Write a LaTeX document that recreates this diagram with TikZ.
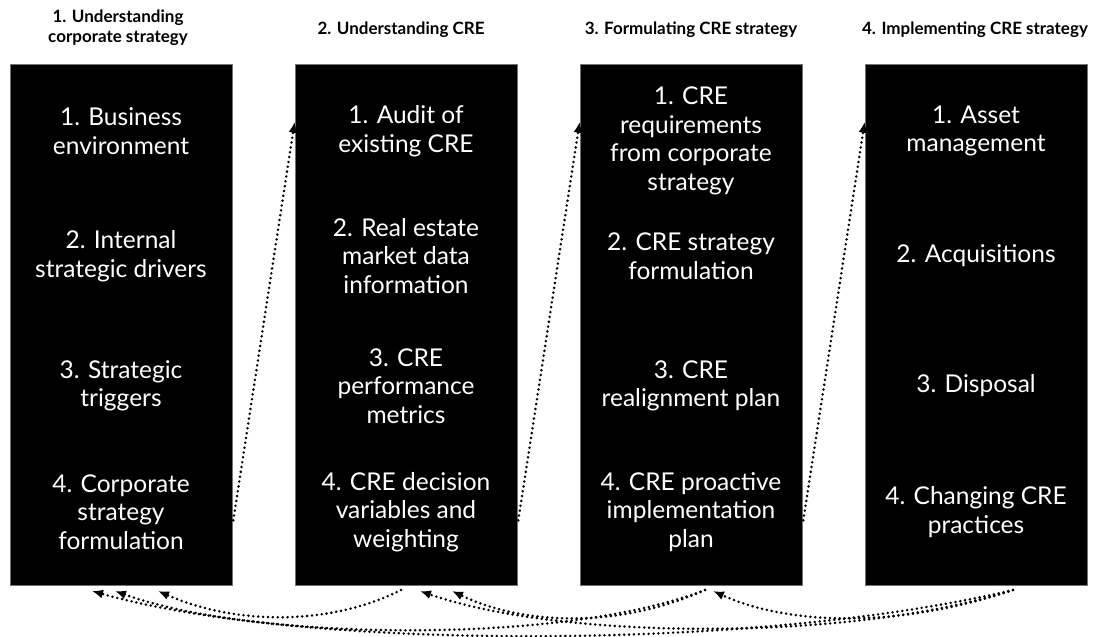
\documentclass[tikz,border=0pt]{standalone}
\usepackage{fontspec}
\setmainfont{Lato}
\usetikzlibrary{arrows.meta}

\begin{document}
\begin{tikzpicture}[x=1pt,y=-1pt,
  stage/.style={fill=black, draw=black!55, line width=0.6pt, minimum width=222pt, minimum height=521pt, inner sep=0pt},
  item/.style={text=white, align=center, font=\fontsize{24.5}{28.5}\selectfont},
  head/.style={align=center, font=\bfseries\fontsize{17}{20}\selectfont},
  dots/.style={line width=2.8pt, dash pattern=on 0pt off 4.9pt, line cap=round, -{Latex[length=11pt,width=9pt]}}]

\useasboundingbox (0,0) rectangle (1093,637);

% column headings
\node[head] (h1) at (118,28) {1. Understanding\\corporate strategy};
\node[head] (h2) at (401,30) {2. Understanding CRE};
\node[head] (h3) at (691,30) {3. Formulating CRE strategy};
\node[head] (h4) at (975,30) {4. Implementing CRE strategy};

% the four black stages
\node[stage] (s1) at (121,324.5) {};
\node[stage] (s2) at (406,324.5) {};
\node[stage] (s3) at (691,324.5) {};
\node[stage] (s4) at (976,324.5) {};

% stage 1
\node[item] (s1a) at (121,131) {1. Business\\environment};
\node[item] (s1b) at (121,256) {2. Internal\\strategic drivers};
\node[item] (s1c) at (121,386) {3. Strategic\\triggers};
\node[item] (s1d) at (121,512) {4. Corporate\\strategy\\formulation};

% stage 2
\node[item] (s2a) at (406,131) {1. Audit of\\existing CRE};
\node[item] (s2b) at (406,256) {2. Real estate\\market data\\information};
\node[item] (s2c) at (406,386) {3. CRE\\performance\\metrics};
\node[item] (s2d) at (406,512) {4. CRE decision\\variables and\\weighting};

% stage 3
\node[item] (s3a) at (691,141) {1. CRE\\requirements\\from corporate\\strategy};
\node[item] (s3b) at (691,256) {2. CRE strategy\\formulation};
\node[item] (s3c) at (691,386) {3. CRE\\realignment plan};
\node[item] (s3d) at (691,512) {4. CRE proactive\\implementation\\plan};

% stage 4
\node[item] (s4a) at (976,131) {1. Asset\\management};
\node[item] (s4b) at (976,256) {2. Acquisitions};
\node[item] (s4c) at (976,386) {3. Disposal};
\node[item] (s4d) at (976,512) {4. Changing CRE\\practices};

% forward steps
\draw[dots] ([shift={(1pt,65pt)}]s1.south east) -- ([yshift=-58pt]s2.north west);
\draw[dots] ([shift={(1pt,65pt)}]s2.south east) -- ([yshift=-58pt]s3.north west);
\draw[dots] ([shift={(1pt,65pt)}]s3.south east) -- ([yshift=-58pt]s4.north west);

% loops back underneath
\coordinate (o2) at (401,590);
\coordinate (o3) at (705,590);
\coordinate (o4) at (1013,590);
\coordinate (i1a) at (92,591);
\coordinate (i1b) at (115,591);
\coordinate (i1c) at (158,591);
\coordinate (i2a) at (420,591);
\coordinate (i2b) at (452,591);
\coordinate (i3) at (713,591);

\draw[dots] (o2) .. controls (330,626) and (235,625) .. (i1c);
\draw[dots] (o3) .. controls (620,628) and (525,626) .. (i2b);
\draw[dots] (o3) .. controls (560,646) and (250,640) .. (i1b);
\draw[dots] (o4) .. controls (900,628) and (790,626) .. (i3);
\draw[dots] (o4) .. controls (850,642) and (560,640) .. (i2a);
\draw[dots] (o4) .. controls (750,652) and (300,650) .. (i1a);
\end{tikzpicture}
\end{document}
